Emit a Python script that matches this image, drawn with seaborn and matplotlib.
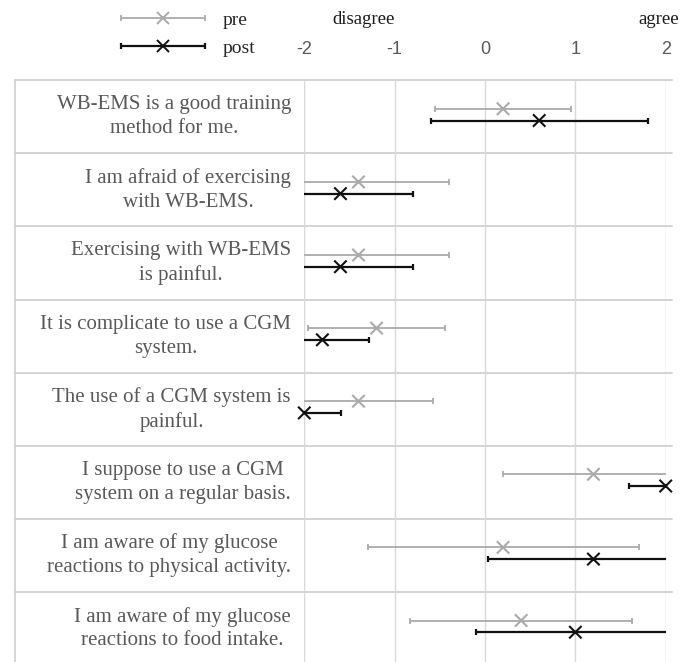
import numpy as np
import pandas as pd
import seaborn as sns
import matplotlib.pyplot as plt
import matplotlib.transforms as mtransforms
from matplotlib.lines import Line2D
from matplotlib.container import ErrorbarContainer
from matplotlib.legend_handler import HandlerTuple, HandlerErrorbar

# statements (one row each) and pre / post mean +- SD on the -2..2 scale
statements = [
    "WB-EMS is a good training\nmethod for me.",
    "I am afraid of exercising\nwith WB-EMS.",
    "Exercising with WB-EMS\nis painful.",
    "It is complicate to use a CGM\nsystem.",
    "The use of a CGM system is\npainful.",
    "I suppose to use a CGM\nsystem on a regular basis.",
    "I am aware of my glucose\nreactions to physical activity.",
    "I am aware of my glucose\nreactions to food intake.",
]
pre_mean = [0.2, -1.4, -1.4, -1.2, -1.4, 1.2, 0.2, 0.4]
pre_sd = [0.75, 1.0, 1.0, 0.76, 0.82, 1.0, 1.5, 1.23]
post_mean = [0.6, -1.6, -1.6, -1.8, -2.0, 2.0, 1.2, 1.0]
post_sd = [1.2, 0.8, 0.8, 0.52, 0.41, 0.41, 1.17, 1.1]
ticks = [-2, -1, 0, 1, 2]

pre_col = "#aaaaaa"
post_col = "#111111"
text_col = "#595959"

sns.set_theme(style="white")
plt.rcParams["font.family"] = ["Liberation Serif", "DejaVu Serif"]

W, H = 681, 662
fig = plt.figure(figsize=(W / 100, H / 100), dpi=100)
top_px, row_px = 80.3, 73.1
ax = fig.add_axes([304.3 / W, 1 - (top_px + 8 * row_px) / H,
                   361.4 / W, 8 * row_px / H])

n = len(statements)
rows = np.arange(n) + 0.5
df = pd.DataFrame({
    "row": np.concatenate([rows - 0.11, rows + 0.05]),
    "mean": pre_mean + post_mean,
    "sd": pre_sd + post_sd,
    "time": ["pre"] * n + ["post"] * n,
})

handles = []
for t, col, lw in [("pre", pre_col, 1.3), ("post", post_col, 1.6)]:
    d = df[df["time"] == t]
    eb = ax.errorbar(d["mean"], d["row"], xerr=d["sd"], fmt="none",
                     ecolor=col, elinewidth=lw, capsize=2.5, capthick=lw)
    handles.append((eb, Line2D([], [], marker="x", ls="none", color=col,
                               markersize=9, markeredgewidth=1.4)))

sns.scatterplot(data=df, x="mean", y="row", hue="time", marker="x",
                palette={"pre": pre_col, "post": post_col}, s=80,
                linewidth=1.5, legend=False, ax=ax, clip_on=False, zorder=5)

ax.set_xlim(-2, 2)
ax.set_ylim(n, 0)
ax.set_xticks(ticks)
ax.set_xticklabels([str(t) for t in ticks], family=["Liberation Sans"],
                   fontsize=13, color=text_col)
ax.xaxis.tick_top()
ax.tick_params(axis="x", length=0, pad=16)
ax.set_yticks([])
ax.set_xlabel("")
ax.set_ylabel("")
ax.grid(axis="x", color="#d9d9d9", lw=1)
ax.grid(axis="y", visible=False)
for s in ax.spines.values():
    s.set_visible(False)

# table lines and statement labels
trans = mtransforms.blended_transform_factory(fig.transFigure, ax.transData)
for y in range(n):
    ax.plot([15 / W, 672 / W], [y, y], transform=trans, color="#d3d3d3",
            lw=1.4, clip_on=False, zorder=0)
ax.plot([15 / W, 15 / W], [0, n], transform=trans, color="#cfcfcf",
        lw=1.2, clip_on=False)
for r, s in zip(rows, statements):
    ax.text(291 / W, r, s, transform=trans, ha="right", va="center",
            multialignment="center", fontsize=15, color=text_col,
            linespacing=1.35)

fig.text(364 / W, 1 - 20 / H, "disagree", ha="center", va="center",
         fontsize=13.5, color="#1a1a1a")
fig.text(659 / W, 1 - 20 / H, "agree", ha="center", va="center",
         fontsize=13.5, color="#1a1a1a")

leg = fig.legend(handles, ["pre", "post"], loc="upper left",
                 bbox_to_anchor=(120 / W, 1 - 11 / H), frameon=False,
                 handler_map={tuple: HandlerTuple(ndivide=1),
                              ErrorbarContainer: HandlerErrorbar(xerr_size=2.15)},
                 handlelength=4.4, handletextpad=0.9, labelspacing=0.55,
                 borderpad=0, borderaxespad=0, fontsize=14)
for t in leg.get_texts():
    t.set_color("#262626")

fig.savefig("out.png", dpi=100)
